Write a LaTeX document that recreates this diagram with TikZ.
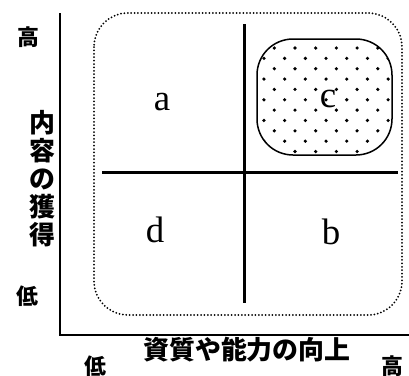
\documentclass[tikz,border=0pt]{standalone}
\usepackage{fontspec}
\setmainfont{Liberation Serif}
\newfontfamily\jp{Noto Sans CJK JP}
\tikzset{
  axis/.style={line width=1.5bp},
  divider/.style={line width=3bp},
  outerbox/.style={line width=2bp, line cap=round, dash pattern=on 0bp off 3.4bp, rounded corners=34bp},
  blob/.style={line width=1.5bp, rounded corners=36bp},
  quad/.style={font=\fontsize{37}{37}\selectfont, inner sep=0pt},
  jplab/.style={font=\jp\bfseries\fontsize{22}{22}\selectfont, inner sep=0pt},
  jpaxis/.style={font=\jp\bfseries\fontsize{26}{28}\selectfont, inner sep=0pt, align=center}
}
\begin{document}
\begin{tikzpicture}[x=1bp,y=-1bp]
\useasboundingbox (0,0) rectangle (409,376);
% axes
\coordinate (ytop) at (60,13);
\coordinate (origin) at (60,335);
\coordinate (xend) at (409,335);
\draw[axis] (ytop) -- (origin) -- (xend);
% outer dotted box
\draw[outerbox] (94,13) rectangle (402,315);
% dividers
\coordinate (vt) at (244,24);
\coordinate (vb) at (244,303);
\coordinate (hl) at (102,172);
\coordinate (hr) at (398,172);
\draw[divider] (vt) -- (vb);
\draw[divider] (hl) -- (hr);
% c blob
\begin{scope}
\clip[rounded corners=36bp] (257,39) rectangle (392,155);
\foreach \i in {-5,...,13}{
  \foreach \j in {-2,...,12}{
    \pgfmathtruncatemacro{\myparity}{mod(\i+\j+20,2)}
    \ifnum\myparity=0
      \fill (295+10.35*\i, 48+10.35*\j) circle (1.8bp);
    \fi
  }
}
\end{scope}
\draw[blob] (257,39) rectangle (392,155);
% quadrant labels
\node[quad] (a) at (162,102) {a};
\node[quad] (c) at (328,99) {c};
\node[quad] (d) at (155,230) {d};
\node[quad] (b) at (331,232) {b};
% axis labels
\node[jplab] (yhigh) at (28,37) {高};
\node[jplab] (ylow) at (27,296) {低};
\node[jpaxis] (ylabel) at (42,178.5) {内\\容\\の\\獲\\得};
\node[jpaxis] (xlabel) at (247,350) {資質や能力の向上};
\node[jplab] (xlow) at (95,366) {低};
\node[jplab] (xhigh) at (392,366) {高};
\end{tikzpicture}
\end{document}
